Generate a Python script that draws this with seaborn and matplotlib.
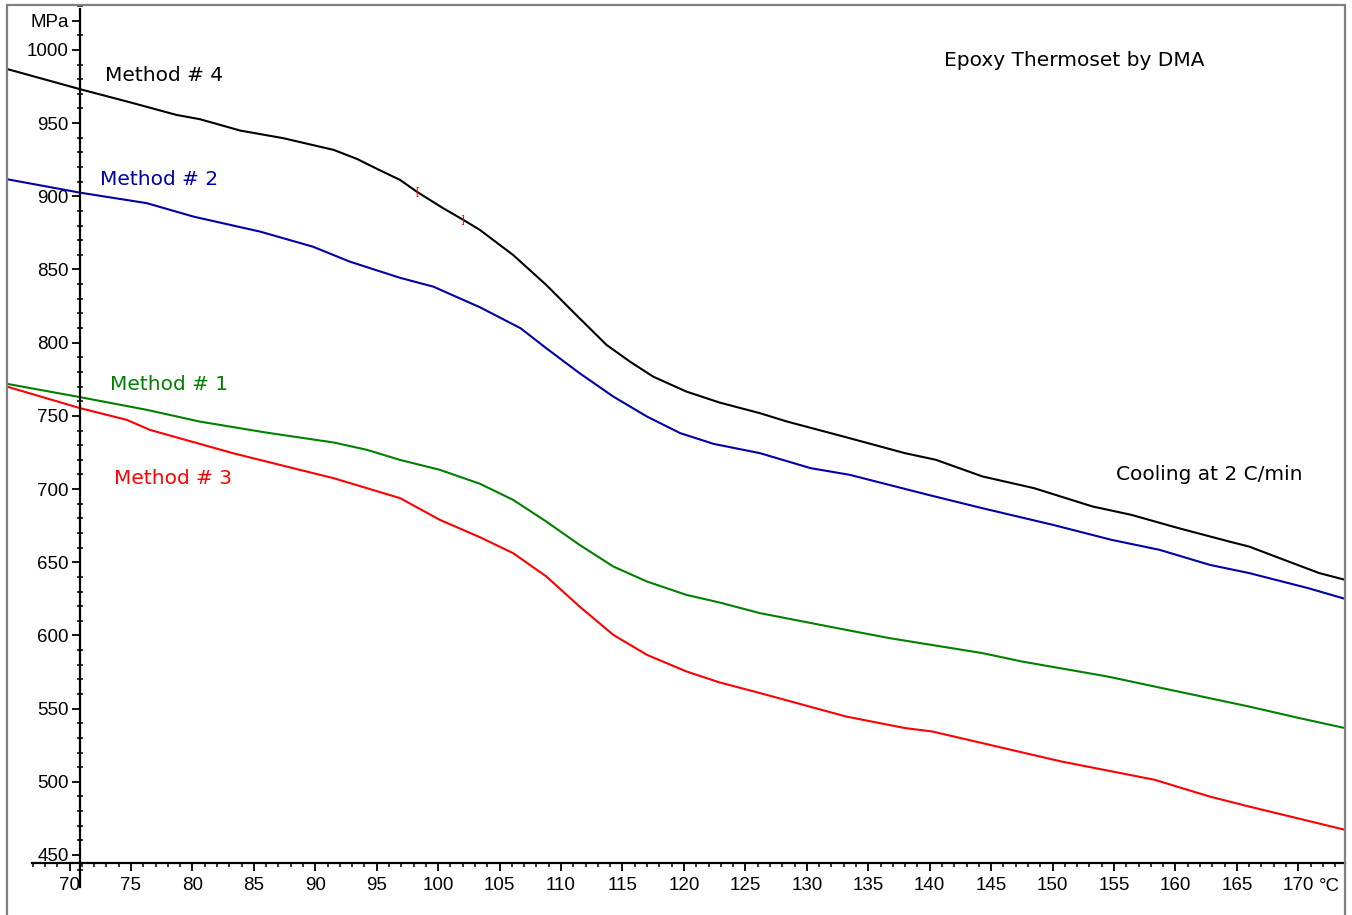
import numpy as np
import pandas as pd
import matplotlib
matplotlib.use("Agg")
import matplotlib.pyplot as plt
from matplotlib.ticker import FixedLocator
from matplotlib.patches import Rectangle
import seaborn as sns

# ---------------- data ----------------
temp_m4 = [64.9, 70.85, 75.2, 78.7, 80.6, 83.9, 87.4, 91.5, 93.4, 95.2, 96.9, 98.25,
           100.4, 102.05, 103.4, 106.1, 108.8, 111.5, 113.7, 115.6, 117.5, 120.2,
           122.9, 126.2, 128.4, 133.2, 138.0, 140.5, 144.3, 148.5, 153.25, 156.4,
           160.25, 164.4, 166.0, 169.2, 171.7, 173.8]
mod_m4 = [987, 973.2, 963.6, 955.6, 952.7, 944.9, 939.7, 931.7, 925.5, 918, 911.2, 903.2,
          891.9, 883.9, 877.0, 859.9, 839.4, 816.7, 798.5, 787.1, 776.8, 766.6,
          759.1, 751.8, 746.1, 735.4, 724.5, 720, 708.6, 700.6, 688.1, 682.4,
          673.3, 664.1, 660.7, 650.5, 642.6, 638]

temp_m2 = [64.9, 70.85, 76.3, 80.1, 85.5, 89.8, 92.8, 96.9, 99.6, 103.4, 106.7, 108.8,
           111.5, 114.25, 117.0, 119.7, 122.4, 126.2, 130.3, 133.5, 139.9, 144.3,
           150.05, 154.8, 158.7, 162.8, 166.0, 170.8, 173.8]
mod_m2 = [911.7, 902.5, 895.3, 886.1, 875.9, 865.6, 855.4, 844.3, 838.3, 824.2, 809.9, 796.2,
          779.2, 763.2, 749.5, 738.2, 730.9, 724.5, 714.3, 709.7, 696, 686.9,
          675.5, 665.3, 658.5, 648.2, 642.6, 632.3, 625]

temp_m1 = [64.9, 70.85, 76.3, 80.6, 86.0, 91.5, 94.2, 96.9, 100.15, 103.4, 106.1, 108.8,
           111.5, 114.25, 117.0, 120.2, 122.9, 126.2, 133.2, 136.7, 144.3, 147.5,
           154.5, 158.3, 166.0, 170.1, 173.8]
mod_m1 = [771.9, 762.8, 754.1, 746.1, 738.6, 731.8, 726.8, 719.9, 713.1, 703.6, 692.6, 677.8,
          661.9, 647.1, 636.8, 627.7, 622.5, 615.2, 603.8, 598.2, 587.9, 582.2,
          571.9, 565.1, 551.4, 543.5, 536.7]

temp_m3 = [64.9, 70.85, 74.65, 76.55, 83.3, 88.75, 91.5, 96.9, 100.15, 103.4, 106.1, 108.8,
           111.5, 114.25, 117.0, 120.2, 122.9, 126.2, 133.2, 138.0, 140.2, 144.3,
           150.7, 158.3, 162.8, 166.0, 173.8]
mod_m3 = [770, 755.3, 747.3, 740.4, 724.5, 713.1, 707.4, 693.8, 678.9, 667.1, 656.2, 640.3,
          619.8, 600.4, 586.7, 575.4, 567.9, 560.6, 544.6, 536.7, 534.4, 526.4,
          513.9, 501.4, 489.9, 483.1, 467.2]

methods = ["Method # 4", "Method # 2", "Method # 1", "Method # 3"]
x_ticks = list(range(70, 171, 5))
x_ticklabels = [str(v) for v in x_ticks]
y_ticks = list(range(450, 1001, 50)) + [1020]
y_ticklabels = [str(v) for v in range(450, 1001, 50)] + ["MPa"]
note_title = "Epoxy Thermoset by DMA"
note_rate = "Cooling at 2 C/min"
x_unit = "°C"

# ---------------- assemble ----------------
frames = []
for name, t, m in zip(methods,
                      [temp_m4, temp_m2, temp_m1, temp_m3],
                      [mod_m4, mod_m2, mod_m1, mod_m3]):
    frames.append(pd.DataFrame({"temp": t, "modulus": m, "method": name}))
df = pd.concat(frames, ignore_index=True)

palette = {"Method # 4": "#000000", "Method # 2": "#0000A8",
           "Method # 1": "#008000", "Method # 3": "#FF0000"}

sns.set_theme(style="white")
plt.rcParams["font.family"] = ["Liberation Sans", "DejaVu Sans"]
plt.rcParams["lines.solid_joinstyle"] = "round"

W, H = 1352, 915
fig = plt.figure(figsize=(W / 100, H / 100), dpi=100)
ax = fig.add_axes([7 / W, 0, (1345 - 7) / W, 1 - 5 / H])
ax.set_facecolor("white")

sns.lineplot(data=df, x="temp", y="modulus", hue="method", palette=palette,
             sort=False, estimator=None, legend=False, linewidth=1.5, ax=ax)

ax.set_xlim(64.91, 173.8)
ax.set_ylim(409, 1030.7)
ax.set_xlabel("")
ax.set_ylabel("")

# spines crossing inside the plot
for s in ("top", "right"):
    ax.spines[s].set_visible(False)
ax.spines["left"].set_position(("data", 70.85))
ax.spines["left"].set_bounds(428, 1028)
ax.spines["bottom"].set_position(("data", 444.3))
ax.spines["bottom"].set_bounds(66.94, 173.8)
for s in ("left", "bottom"):
    ax.spines[s].set_color("black")
    ax.spines[s].set_linewidth(1.6)

ax.xaxis.set_major_locator(FixedLocator(x_ticks))
ax.set_xticklabels(x_ticklabels)
ax.xaxis.set_minor_locator(FixedLocator(list(range(67, 174))))
ax.yaxis.set_major_locator(FixedLocator(y_ticks))
ax.set_yticklabels(y_ticklabels)
ax.yaxis.set_minor_locator(FixedLocator(list(range(440, 1031, 10))))

ax.tick_params(axis="x", which="major", direction="out", length=6, width=1.3,
               labelsize=13.5, pad=4, colors="black", bottom=True)
ax.tick_params(axis="x", which="minor", direction="out", length=3, width=1.1,
               bottom=True, colors="black")
ax.tick_params(axis="y", which="major", direction="out", length=6, width=1.3,
               labelsize=13.5, pad=2, colors="black", left=True)
ax.tick_params(axis="y", which="minor", direction="inout", length=5, width=1.1,
               left=True, colors="black")

# unit after the last x label
ax.annotate(x_unit, xy=(171.7, 444.3), xytext=(0, -10.3), textcoords="offset points",
            ha="left", va="top", fontsize=13.5, color="black")

# annotations
ann_font = ["DejaVu Sans"]
ax.text(72.9, 982.2, methods[0], color=palette[methods[0]], fontsize=14.5,
        ha="left", va="center", family=ann_font)
ax.text(72.5, 911.7, methods[1], color=palette[methods[1]], fontsize=14.5,
        ha="left", va="center", family=ann_font)
ax.text(73.3, 771.6, methods[2], color=palette[methods[2]], fontsize=14.5,
        ha="left", va="center", family=ann_font)
ax.text(73.6, 707.4, methods[3], color=palette[methods[3]], fontsize=14.5,
        ha="left", va="center", family=ann_font)
ax.text(141.2, 992.5, note_title, color="black", fontsize=14.5,
        ha="left", va="center", family=ann_font)
ax.text(155.2, 709.7, note_rate, color="black", fontsize=14.5,
        ha="left", va="center", family=ann_font)

# analysis range brackets on Method # 4
ax.text(98.25, 903.2, "[", color="red", fontsize=7, ha="center", va="center")
ax.text(102.05, 883.9, "]", color="red", fontsize=7, ha="center", va="center")

# outer frame
fig.patches.append(Rectangle((7 / W, -0.05), (1345 - 7) / W, 1.05 - 5 / H,
                             transform=fig.transFigure, fill=False,
                             edgecolor="#7f7f7f", linewidth=1.6, zorder=10))

fig.savefig("out.png", dpi=100, facecolor="white")
